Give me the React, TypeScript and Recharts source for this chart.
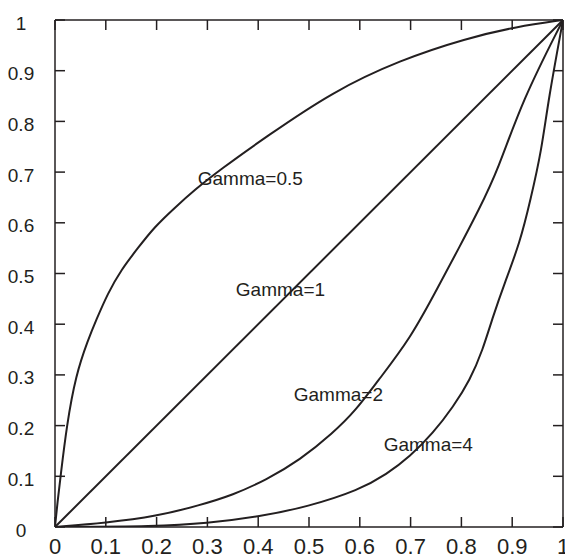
import React from 'react'
import { LineChart, Line, XAxis, YAxis, ReferenceDot, Label } from 'recharts'

const ticks = [0, 0.1, 0.2, 0.3, 0.4, 0.5, 0.6, 0.7, 0.8, 0.9, 1]
const tickLabels = ['0', '0.1', '0.2', '0.3', '0.4', '0.5', '0.6', '0.7', '0.8', '0.9', '1']

// curves: [input, output]
const gamma05 = [
  [0, 0], [0.005, 0.05], [0.011, 0.1], [0.023, 0.2], [0.041, 0.3], [0.065, 0.369], [0.081, 0.408],
  [0.104, 0.461], [0.13, 0.507], [0.163, 0.55], [0.196, 0.592], [0.235, 0.629],
  [0.275, 0.665], [0.324, 0.704], [0.416, 0.77], [0.547, 0.859], [0.679, 0.921],
  [0.81, 0.964], [0.909, 0.987], [1, 1],
]
const gamma1 = [[0, 0], [1, 1]]
const gamma2 = [
  [0, 0], [0.1, 0.008], [0.2, 0.021], [0.285, 0.043], [0.35, 0.063], [0.416, 0.093],
  [0.482, 0.132], [0.547, 0.185], [0.593, 0.231], [0.633, 0.285], [0.7, 0.372],
  [0.755, 0.475], [0.795, 0.55], [0.834, 0.625], [0.872, 0.704], [0.92, 0.842], [1, 1],
]
const gamma4 = [
  [0, 0], [0.2, 0.001], [0.298, 0.007], [0.4, 0.02], [0.498, 0.04], [0.599, 0.073],
  [0.653, 0.104], [0.699, 0.139], [0.744, 0.185], [0.784, 0.237], [0.817, 0.29],
  [0.842, 0.349], [0.862, 0.415], [0.885, 0.481], [0.915, 0.56], [0.936, 0.645],
  [0.958, 0.744], [0.971, 0.842], [1, 1],
]

const notes = [
  { text: 'Gamma=0.5', x: 0.281, y: 0.688 },
  { text: 'Gamma=1', x: 0.356, y: 0.469 },
  { text: 'Gamma=2', x: 0.47, y: 0.262 },
  { text: 'Gamma=4', x: 0.647, y: 0.164 },
]

// one table keyed by x, blanks where a curve has no point
const series: Record<string, number[][]> = { g05: gamma05, g1: gamma1, g2: gamma2, g4: gamma4 }
const rows: Record<number, any> = {}
Object.entries(series).forEach(([key, pts]) => {
  pts.forEach(([x, y]) => {
    if (!rows[x]) rows[x] = { x }
    rows[x][key] = y
  })
})
const data = Object.values(rows).sort((a: any, b: any) => a.x - b.x)

const ink = '#231f20'
const font = '"Liberation Sans", Arial, sans-serif'

const BottomTick = (props: any) => {
  const { x, y, index } = props
  return (
    <g>
      <line x1={x} y1={y} x2={x} y2={y - 10} stroke={ink} strokeWidth={1.5} />
      <text x={x} y={y + 27} textAnchor="middle" fontFamily={font} fontSize={22} fill={ink}>
        {tickLabels[index]}
      </text>
    </g>
  )
}

const TopTick = (props: any) => {
  const { x, y } = props
  return <line x1={x} y1={y} x2={x} y2={y + 10} stroke={ink} strokeWidth={1.5} />
}

const LeftTick = (props: any) => {
  const { x, y, index } = props
  return (
    <g>
      <line x1={x} y1={y} x2={x + 10} y2={y} stroke={ink} strokeWidth={1.5} />
      <text x={x - 34} y={y + 9.5} textAnchor="middle" fontFamily={font} fontSize={19} fill={ink}>
        {tickLabels[index]}
      </text>
    </g>
  )
}

const RightTick = (props: any) => {
  const { x, y } = props
  return <line x1={x} y1={y} x2={x - 10} y2={y} stroke={ink} strokeWidth={1.5} />
}

export default function App() {
  return (
    <div style={{ position: 'absolute', left: 0, top: 0, background: '#fff' }}>
      <LineChart width={565} height={559} data={data} margin={{ top: 0, right: 0, bottom: 0, left: 0 }}>
        <XAxis dataKey="x" type="number" domain={[0, 1]} ticks={ticks} interval={0} height={32}
          allowDataOverflow tickSize={0} tickMargin={0} tickLine={false}
          axisLine={{ stroke: ink, strokeWidth: 1.5 }} tick={<BottomTick />} />
        <XAxis xAxisId="top" orientation="top" dataKey="x" type="number" domain={[0, 1]} ticks={ticks}
          interval={0} height={20} allowDataOverflow tickSize={0} tickMargin={0} tickLine={false}
          axisLine={{ stroke: ink, strokeWidth: 1.5 }} tick={<TopTick />} />
        <YAxis type="number" domain={[0, 1]} ticks={ticks} interval={0} width={55}
          allowDataOverflow tickSize={0} tickMargin={0} tickLine={false}
          axisLine={{ stroke: ink, strokeWidth: 1.5 }} tick={<LeftTick />} />
        <YAxis yAxisId="right" orientation="right" type="number" domain={[0, 1]} ticks={ticks}
          interval={0} width={2} allowDataOverflow tickSize={0} tickMargin={0} tickLine={false}
          axisLine={{ stroke: ink, strokeWidth: 1.5 }} tick={<RightTick />} />
        {Object.keys(series).map((key) => (
          <Line key={key} dataKey={key} type={key === 'g1' ? 'linear' : 'basis'} connectNulls
            stroke={ink} strokeWidth={2} dot={false} activeDot={false} isAnimationActive={false} />
        ))}
        {notes.map((n) => (
          <ReferenceDot key={n.text} x={n.x} y={n.y} r={0} stroke="none" fill="none">
            <Label value={n.text} position="right" offset={0} fontFamily={font} fontSize={19} fill={ink} />
          </ReferenceDot>
        ))}
      </LineChart>
    </div>
  )
}
